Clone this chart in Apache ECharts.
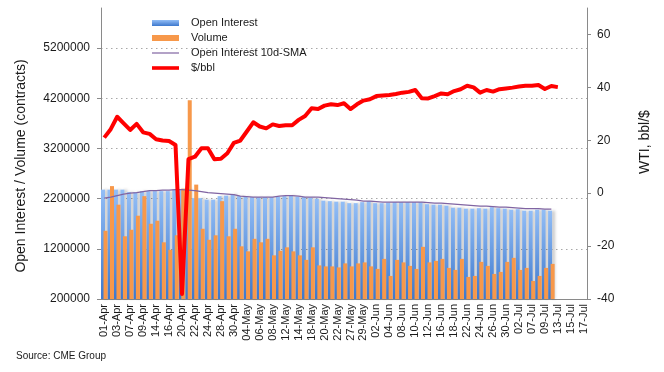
<!DOCTYPE html>
<html><head><meta charset="utf-8">
<script src="https://cdn.jsdelivr.net/npm/echarts@6/dist/echarts.min.js"></script>
<style>html,body{margin:0;padding:0;background:#fff}#c{width:664px;height:372px}</style>
</head><body><div id="c"></div>
<script>
const categories = [
 '01-Apr','02-Apr','03-Apr','06-Apr','07-Apr','08-Apr','09-Apr','13-Apr','14-Apr','15-Apr','16-Apr','17-Apr','20-Apr','21-Apr','22-Apr','23-Apr','24-Apr','27-Apr','28-Apr','29-Apr','30-Apr',
 '01-May','04-May','05-May','06-May','07-May','08-May','11-May','12-May','13-May','14-May','15-May','18-May','19-May','20-May','21-May','22-May','26-May','27-May','28-May','29-May',
 '01-Jun','02-Jun','03-Jun','04-Jun','05-Jun','08-Jun','09-Jun','10-Jun','11-Jun','12-Jun','15-Jun','16-Jun','17-Jun','18-Jun','19-Jun','22-Jun','23-Jun','24-Jun','25-Jun','26-Jun','29-Jun','30-Jun',
 '01-Jul','02-Jul','06-Jul','07-Jul','08-Jul','09-Jul','10-Jul','13-Jul','14-Jul','15-Jul','16-Jul','17-Jul'
];
const openInterest = [
 2380000,2380000,2380000,2380000,2330000,2330000,2350000,2350000,2350000,2350000,2350000,2380000,2380000,2400000,2210000,2210000,2180000,2180000,2250000,2260000,2290000,
 2250000,2240000,2230000,2230000,2230000,2230000,2240000,2250000,2260000,2240000,2230000,2220000,2200000,2160000,2150000,2140000,2140000,2110000,2110000,2130000,
 2150000,2110000,2110000,2120000,2130000,2130000,2130000,2130000,2130000,2090000,2080000,2080000,2060000,2020000,2020000,2000000,2000000,2010000,2000000,2030000,2010000,2000000,
 1980000,1990000,1960000,1960000,1980000,1980000,1960000
];
const volume = [
 1560000,2450000,2080000,1450000,1580000,1860000,2250000,1700000,1760000,1330000,1180000,1470000,2400000,4160000,2480000,1600000,1380000,1470000,2150000,1450000,1600000,
 1250000,1150000,1400000,1330000,1400000,1070000,1160000,1230000,1150000,1070000,980000,1230000,870000,850000,850000,830000,910000,850000,910000,930000,
 850000,800000,1000000,660000,980000,930000,860000,800000,1240000,930000,960000,1000000,820000,780000,1000000,640000,660000,940000,860000,700000,740000,940000,
 1020000,780000,820000,560000,660000,820000,900000
];
const oiSma = [
 2210000,2230000,2260000,2290000,2310000,2320000,2340000,2360000,2360000,2370000,2370000,2380000,2380000,2370000,2360000,2340000,2320000,2310000,2300000,2290000,2280000,
 2250000,2240000,2230000,2230000,2230000,2230000,2250000,2260000,2260000,2250000,2230000,2230000,2230000,2220000,2210000,2200000,2190000,2180000,2170000,2150000,
 2150000,2140000,2130000,2130000,2130000,2130000,2130000,2130000,2130000,2120000,2110000,2110000,2100000,2090000,2080000,2070000,2060000,2050000,2050000,2040000,2030000,2030000,
 2020000,2010000,2000000,2000000,2000000,1990000,1990000
];
const wti = [
 21.0,24.2,28.9,26.4,23.9,26.2,23.0,22.4,20.4,19.9,19.7,18.2,-38.1,12.9,13.8,17.0,17.0,12.8,13.0,15.1,19.0,
 19.9,23.3,26.8,25.2,24.5,26.0,25.4,25.7,25.7,27.7,29.2,32.1,31.8,33.1,33.6,33.3,34.0,31.8,33.6,35.0,
 35.5,36.7,36.9,37.1,37.5,38.0,38.3,39.0,35.9,35.8,36.7,37.7,37.4,38.6,39.3,40.6,40.0,38.0,39.0,38.4,39.3,39.6,
 39.9,40.3,40.6,40.6,40.9,39.4,40.5,40.1
];
const leftTitle = 'Open Interest / Volume (contracts)';
const rightTitle = 'WTI, bbl/$';
const sourceText = 'Source: CME Group';

const FONT = 'Liberation Sans, Arial, sans-serif';
const TXT = '#1a1a1a';
const AX = '#8a8a8a';
const chart = echarts.init(document.getElementById('c'), null, {renderer: 'canvas'});
const blueGrad = new echarts.graphic.LinearGradient(0, 0, 0, 1, [
  {offset: 0, color: '#93bef6'}, {offset: 1, color: '#3d78cd'}
]);
chart.setOption({
  animation: false,
  textStyle: {fontFamily: FONT},
  grid: {left: 101, right: 77, top: 8, bottom: 73, containLabel: false},
  legend: {
    orient: 'vertical', left: 152, top: 17, padding: 0, itemWidth: 27, itemHeight: 6, itemGap: 3,
    textStyle: {fontSize: 11, color: TXT, fontFamily: FONT, lineHeight: 12, padding: [0, 0, 0, 7]},
    data: [
      {name: 'Open Interest', icon: 'rect'},
      {name: 'Volume', icon: 'rect'},
      {name: 'Open Interest 10d-SMA', icon: 'path://M0,0L0,0M0,2.4L27,2.4L27,3.6L0,3.6ZM0,6L0,6'},
      {name: '$/bbl', icon: 'path://M0,0L0,0M0,1.2L27,1.2L27,4.8L0,4.8ZM0,6L0,6'}
    ]
  },
  xAxis: {
    type: 'category', data: categories, boundaryGap: true,
    axisLine: {onZero: false, lineStyle: {color: AX, width: 1}},
    axisTick: {interval: 0, length: 4, lineStyle: {color: AX}},
    axisLabel: {interval: 1, rotate: 90, fontSize: 11, color: TXT, margin: 5, fontFamily: FONT},
    splitLine: {show: false}
  },
  yAxis: [
    {
      type: 'value', min: 200000, max: 6000000, interval: 1000000, position: 'left',
      axisLine: {show: true, onZero: false, lineStyle: {color: AX}},
      axisTick: {show: true, length: 4, lineStyle: {color: AX}},
      axisLabel: {fontSize: 12, color: TXT, margin: 11, showMaxLabel: false, fontFamily: FONT,
        formatter: function (v) { return String(v); }},
      splitLine: {show: true, showMaxLine: false, lineStyle: {color: '#a8a8a8', type: [1.5, 3.5], width: 1}}
    },
    {
      type: 'value', min: -40, max: 70, interval: 20, position: 'right',
      axisLine: {show: true, onZero: false, lineStyle: {color: AX}},
      axisTick: {show: true, length: 4, lineStyle: {color: AX}},
      axisLabel: {fontSize: 12, color: TXT, margin: 10, showMaxLabel: false, fontFamily: FONT,
        formatter: function (v) { return String(v); }},
      splitLine: {show: false}
    }
  ],
  series: [
    {
      name: 'Open Interest', type: 'bar', yAxisIndex: 0, data: openInterest,
      barWidth: 4, barGap: '-37%',
      itemStyle: {color: blueGrad, shadowColor: 'rgba(0,0,0,0.2)', shadowBlur: 3, shadowOffsetX: 3},
      emphasis: {disabled: true}
    },
    {
      name: 'Volume', type: 'bar', yAxisIndex: 0, data: volume,
      barWidth: 4, barGap: '-37%',
      itemStyle: {color: '#f7984a'},
      emphasis: {disabled: true}
    },
    {
      name: 'Open Interest 10d-SMA', type: 'line', yAxisIndex: 0, data: oiSma,
      symbol: 'none', lineStyle: {color: '#8064a2', width: 1.3}, itemStyle: {color: '#8064a2'},
      emphasis: {disabled: true}, z: 3
    },
    {
      name: '$/bbl', type: 'line', yAxisIndex: 1, data: wti,
      symbol: 'none', lineStyle: {color: '#ff0000', width: 4, join: 'round'}, itemStyle: {color: '#ff0000'},
      emphasis: {disabled: true}, z: 4
    }
  ],
  graphic: [
    {type: 'text', x: 21, y: 166, rotation: Math.PI / 2,
     style: {text: leftTitle, fontSize: 14, fill: TXT, fontFamily: FONT, align: 'center', verticalAlign: 'middle'}},
    {type: 'text', x: 645, y: 142, rotation: Math.PI / 2,
     style: {text: rightTitle, fontSize: 14, fill: TXT, fontFamily: FONT, align: 'center', verticalAlign: 'middle'}},
    {type: 'text', left: 16, top: 351, style: {text: sourceText, fontSize: 10, fill: TXT, fontFamily: FONT}}
  ]
});
</script></body></html>
